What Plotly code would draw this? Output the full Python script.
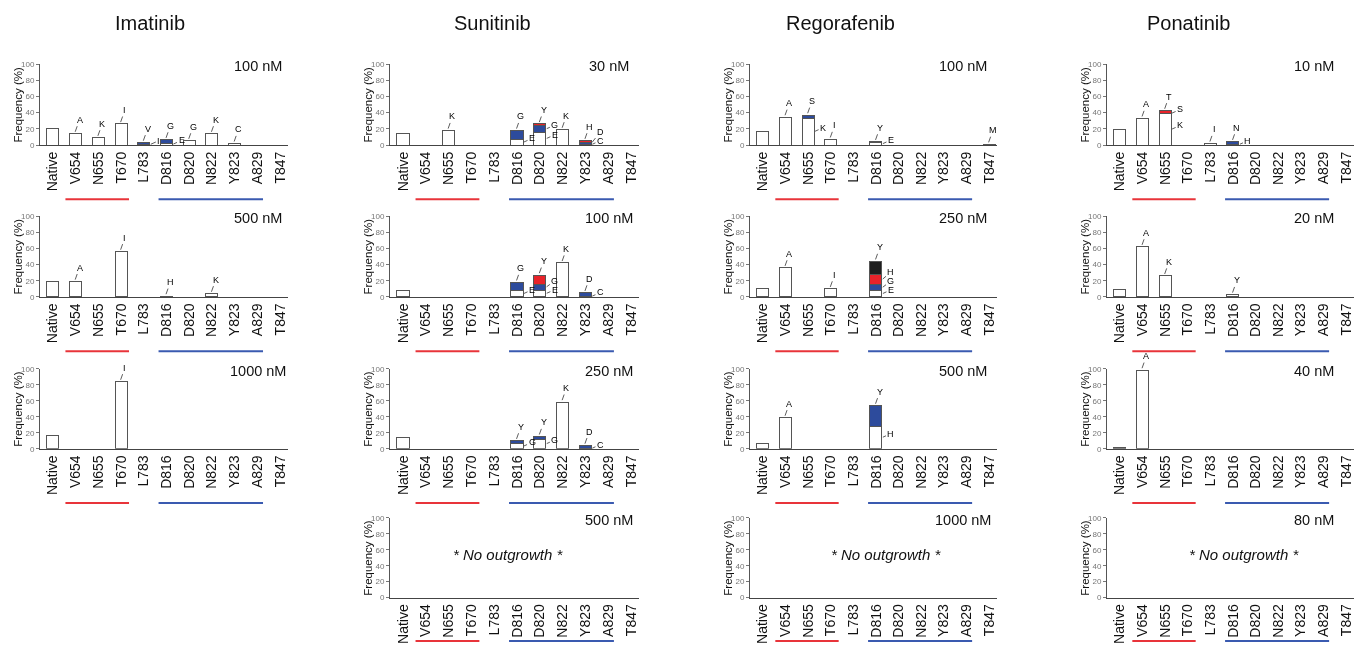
import plotly.graph_objects as go

W, H = 1365, 650

CATEGORIES = ["Native", "V654", "N655", "T670", "L783", "D816",
              "D820", "N822", "Y823", "A829", "T847"]
DRUGS = ["Imatinib", "Sunitinib", "Regorafenib", "Ponatinib"]

# segments: (category, frequency %, fill key, mutation letter) - listed bottom to top
IMATINIB_100 = [("Native", 21, "W", ""), ("V654", 14, "W", "A"), ("N655", 9, "W", "K"),
                ("T670", 26, "W", "I"), ("L783", 0.8, "W", "I"), ("L783", 2.2, "B", "V"),
                ("D816", 1.5, "W", "E"), ("D816", 5, "B", "G"), ("D820", 5.3, "W", "G"),
                ("N822", 14, "W", "K"), ("Y823", 2, "W", "C")]
IMATINIB_500 = [("Native", 19.5, "W", ""), ("V654", 19, "W", "A"), ("T670", 56, "W", "I"),
                ("D816", 1, "W", "H"), ("N822", 4, "W", "K")]
IMATINIB_1000 = [("Native", 16, "W", ""), ("T670", 84, "W", "I")]

SUNITINIB_30 = [("Native", 14, "W", ""), ("N655", 18, "W", "K"),
                ("D816", 6.5, "W", "E"), ("D816", 11.5, "B", "G"),
                ("D820", 15.5, "W", "E"), ("D820", 8.5, "B", "G"), ("D820", 2, "R", "Y"),
                ("N822", 19, "W", "K"),
                ("Y823", 1, "W", "C"), ("Y823", 2.5, "B", "D"), ("Y823", 1.8, "R", "H")]
SUNITINIB_100 = [("Native", 7.5, "W", ""),
                 ("D816", 7.5, "W", "E"), ("D816", 10.5, "B", "G"),
                 ("D820", 8, "W", "E"), ("D820", 7.5, "B", "G"), ("D820", 11.5, "R", "Y"),
                 ("N822", 42, "W", "K"),
                 ("Y823", 1, "W", "C"), ("Y823", 4, "B", "D")]
SUNITINIB_250 = [("Native", 13.5, "W", ""),
                 ("D816", 6, "W", "G"), ("D816", 4, "B", "Y"),
                 ("D820", 12, "W", "G"), ("D820", 3.5, "B", "Y"),
                 ("N822", 58.5, "W", "K"),
                 ("Y823", 0.5, "W", "C"), ("Y823", 3.5, "B", "D")]

REGORAFENIB_100 = [("Native", 17, "W", ""), ("V654", 34.5, "W", "A"),
                   ("N655", 33, "W", "K"), ("N655", 4, "B", "S"), ("T670", 7, "W", "I"),
                   ("D816", 2.5, "W", "E"), ("D816", 1.5, "B", "Y"), ("T847", 1, "W", "M")]
REGORAFENIB_250 = [("Native", 10, "W", ""), ("V654", 36, "W", "A"), ("T670", 10, "W", "I"),
                   ("D816", 7.5, "W", "E"), ("D816", 7.5, "B", "G"),
                   ("D816", 12.5, "R", "H"), ("D816", 16.5, "K", "Y")]
REGORAFENIB_500 = [("Native", 6, "W", ""), ("V654", 39, "W", "A"),
                   ("D816", 28, "W", "H"), ("D816", 26, "B", "Y")]

PONATINIB_10 = [("Native", 19, "W", ""), ("V654", 33, "W", "A"),
                ("N655", 38.5, "W", "K"), ("N655", 1, "B", "S"), ("N655", 3, "R", "T"),
                ("L783", 2, "W", "I"), ("D816", 1, "W", "H"), ("D816", 3, "B", "N")]
PONATINIB_20 = [("Native", 9, "W", ""), ("V654", 62, "W", "A"), ("N655", 26, "W", "K"),
                ("D816", 3, "W", "Y")]
PONATINIB_40 = [("Native", 2, "W", ""), ("V654", 98.5, "W", "A")]

NO_OUTGROWTH = None

# (column, row, concentration label, data)
PANELS = [
    (0, 0, "100 nM", IMATINIB_100), (0, 1, "500 nM", IMATINIB_500), (0, 2, "1000 nM", IMATINIB_1000),
    (1, 0, "30 nM", SUNITINIB_30), (1, 1, "100 nM", SUNITINIB_100), (1, 2, "250 nM", SUNITINIB_250),
    (1, 3, "500 nM", NO_OUTGROWTH),
    (2, 0, "100 nM", REGORAFENIB_100), (2, 1, "250 nM", REGORAFENIB_250), (2, 2, "500 nM", REGORAFENIB_500),
    (2, 3, "1000 nM", NO_OUTGROWTH),
    (3, 0, "10 nM", PONATINIB_10), (3, 1, "20 nM", PONATINIB_20), (3, 2, "40 nM", PONATINIB_40),
    (3, 3, "80 nM", NO_OUTGROWTH),
]

FILL = {"W": "#FFFFFF", "B": "#2D4B9C", "R": "#E8232A", "K": "#1E1E1E"}
OUTLINE = "#555555"
FONT = "Arial, Liberation Sans, sans-serif"

# layout geometry in pixels
COL_X = [(40, 288), (390, 639), (750, 997), (1107, 1354)]
ROW_Y = [(61, 143), (215, 297), (370, 451), (521, 602)]
UNDERLINE_Y = [198, 352, 506, 646]
TITLE_X = [150, 492, 840, 1188]
CONC_OFF = [30, 30, 34, 40]
NOOUT_X = [0, 508, 886, 1244]
BAR_W = 0.53

fig = go.Figure()
annotations = []
shapes = []


def letter_font():
    return dict(size=9, color="#000000", family=FONT)


for i, (c, r, conc, data) in enumerate(PANELS):
    n = i + 1
    sfx = "" if n == 1 else str(n)
    xa, ya = f"x{sfx}", f"y{sfx}"
    x0, x1 = COL_X[c]
    yt, yb = ROW_Y[r]
    pxpct = (yb - yt) / 100.0
    fig.layout[f"xaxis{sfx}"] = dict(
        domain=[x0 / W, x1 / W], anchor=ya, type="category",
        categoryorder="array", categoryarray=CATEGORIES,
        range=[-0.57, 10.35], showline=True, linecolor="#444", linewidth=1,
        ticks="", tickangle=-90, tickfont=dict(size=14, color="#111", family=FONT),
        showgrid=False, zeroline=False, fixedrange=True,
    )
    fig.layout[f"yaxis{sfx}"] = dict(
        domain=[1 - yb / H, 1 - yt / H], anchor=xa, range=[0, 100],
        tickvals=[0, 20, 40, 60, 80, 100], ticks="outside", ticklen=3, tickcolor="#777",
        tickfont=dict(size=8, color="#777", family=FONT), showline=True,
        linecolor="#555", linewidth=1, showgrid=False, zeroline=False, fixedrange=True,
    )
    # placeholder trace so empty axes still show every category
    fig.add_trace(go.Bar(x=CATEGORIES, y=[None] * len(CATEGORIES), xaxis=xa, yaxis=ya,
                         showlegend=False, hoverinfo="skip"))

    if data:
        stacks = {}
        for cat, val, key, letter in data:
            stacks.setdefault(cat, []).append((val, key, letter))
        nlayers = max(len(s) for s in stacks.values())
        for k in range(nlayers):
            xs, ys, cols = [], [], []
            for cat, segs in stacks.items():
                if len(segs) > k:
                    xs.append(cat)
                    ys.append(segs[k][0])
                    cols.append(FILL[segs[k][1]])
            fig.add_trace(go.Bar(x=xs, y=ys, width=BAR_W, xaxis=xa, yaxis=ya,
                                 marker=dict(color=cols, line=dict(color=OUTLINE, width=1)),
                                 showlegend=False))
        for cat, segs in stacks.items():
            idx = CATEGORIES.index(cat)
            base = 0
            last_label_px = -99
            for j, (val, key, letter) in enumerate(segs):
                top = base + val
                if letter:
                    if j == len(segs) - 1:
                        annotations.append(dict(
                            x=idx - 0.05, y=top, xref=xa, yref=ya, text=letter,
                            showarrow=True, arrowhead=0, arrowwidth=0.8, arrowcolor="#333",
                            ax=5, ay=-14, standoff=2, font=letter_font()))
                    else:
                        mid_px = (base + top) / 2 * pxpct
                        lab_px = max(mid_px + 4, last_label_px + 9)
                        last_label_px = lab_px
                        annotations.append(dict(
                            x=idx + BAR_W / 2, y=(base + top) / 2, xref=xa, yref=ya, text=letter,
                            showarrow=True, arrowhead=0, arrowwidth=0.8, arrowcolor="#333",
                            ax=9, ay=-(lab_px - mid_px), standoff=1, font=letter_font()))
                base = top
    else:
        annotations.append(dict(
            x=NOOUT_X[c] / W, y=1 - (yt + 0.46 * (yb - yt)) / H, xref="paper", yref="paper",
            text="<i>* No outgrowth *</i>", showarrow=False,
            xanchor="center", yanchor="middle",
            font=dict(size=15, color="#111", family=FONT)))

    annotations.append(dict(
        x=(x1 - CONC_OFF[c]) / W, y=1 - (yt + 2) / H, xref="paper", yref="paper",
        text=conc, showarrow=False, xanchor="center", yanchor="middle",
        font=dict(size=14.5, color="#111", family=FONT)))
    annotations.append(dict(
        x=(x0 - 22) / W, y=1 - (yt + yb) / 2 / H, xref="paper", yref="paper",
        text="Frequency (%)", showarrow=False, textangle=-90,
        xanchor="center", yanchor="middle",
        font=dict(size=11.5, color="#111", family=FONT)))
    uy = -(UNDERLINE_Y[r] - yb) / (yb - yt)
    for (a, b, col) in [(0.55, 3.35, "#E8343A"), (4.65, 9.25, "#3A5AB0")]:
        shapes.append(dict(type="line", xref=xa, yref=f"{ya} domain",
                           x0=a, x1=b, y0=uy, y1=uy,
                           line=dict(color=col, width=2)))

for c, name in enumerate(DRUGS):
    annotations.append(dict(
        x=TITLE_X[c] / W, y=1 - 19 / H, xref="paper", yref="paper", text=name,
        showarrow=False, xanchor="center", yanchor="middle",
        font=dict(size=20, color="#111", family=FONT)))

fig.update_layout(
    width=W, height=H, autosize=False,
    margin=dict(l=0, r=0, t=0, b=0),
    paper_bgcolor="white", plot_bgcolor="white",
    barmode="stack", bargap=0.47,
    annotations=annotations, shapes=shapes,
    font=dict(family=FONT),
)

fig.write_html(
    "out.html", config={"displayModeBar": False},
    post_script="document.body.style.margin='0';"
                "var d=document.querySelector('.plotly-graph-div');"
                "if(d){d.style.willChange='transform';}",
)
